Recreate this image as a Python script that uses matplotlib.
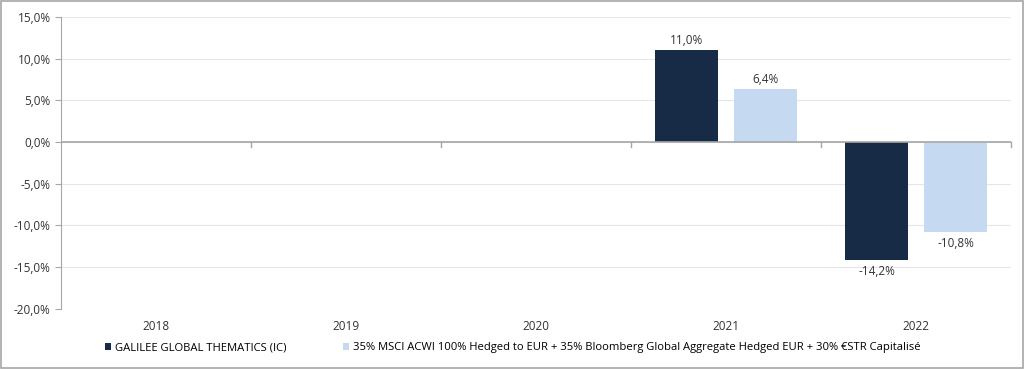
import numpy as np
import matplotlib.pyplot as plt
from matplotlib.ticker import FuncFormatter

years = ["2018", "2019", "2020", "2021", "2022"]
fund = [np.nan, np.nan, np.nan, 11.0, -14.2]
bench = [np.nan, np.nan, np.nan, 6.4, -10.8]
fund_name = "GALILEE GLOBAL THEMATICS (IC)"
bench_name = "35% MSCI ACWI 100% Hedged to EUR + 35% Bloomberg Global Aggregate Hedged EUR + 30% €STR Capitalisé"

dark = "#172b47"
light = "#c5daf1"
plt.rcParams['font.family'] = ['Open Sans', 'DejaVu Sans']

fig = plt.figure(figsize=(10.24, 3.69), dpi=100)
ax = fig.add_axes([0.0596, 0.163, 0.928, 0.791])

x = np.arange(len(years))
w = 0.33
off = 0.208
b1 = ax.bar(x - off, fund, w, color=dark, label=fund_name, zorder=3)
b2 = ax.bar(x + off, bench, w, color=light, label=bench_name, zorder=3)

def fmt(v):
    return "{:.1f}%".format(v).replace(".", ",")

for bars, vals in ((b1, fund), (b2, bench)):
    for r, v in zip(bars, vals):
        if np.isnan(v):
            continue
        if v >= 0:
            ax.text(r.get_x() + r.get_width() / 2, v + 0.35, fmt(v), ha="center", va="bottom",
                    fontsize=8.5, color="#333333")
        else:
            ax.text(r.get_x() + r.get_width() / 2, v - 0.6, fmt(v), ha="center", va="top",
                    fontsize=8.5, color="#333333")

ax.set_ylim(-20, 15)
ax.set_yticks(np.arange(-20, 15.1, 5))
ax.yaxis.set_major_formatter(FuncFormatter(lambda v, p: fmt(v)))
ax.set_xlim(-0.5, len(years) - 0.5)
ax.set_xticks(x)
ax.set_xticklabels(years)
ax.tick_params(axis="x", length=0, labelsize=8.5, colors="#333333", pad=8)
ax.tick_params(axis="y", length=4, color="#a6a6a6", labelsize=8.5, colors="#333333")
ax.grid(axis="y", color="#e6e6e6", linewidth=0.8, zorder=0)

for s in ["top", "right", "bottom"]:
    ax.spines[s].set_visible(False)
ax.spines["left"].set_color("#a6a6a6")
ax.axhline(0, color="#a6a6a6", linewidth=1.2, zorder=4)
# category boundary tick marks on the zero line
for b in np.arange(0.5, len(years) - 0.5, 1.0):
    ax.plot([b, b], [0, -0.55], color="#a6a6a6", linewidth=1, zorder=4, clip_on=False)
ax.plot([len(years) - 0.5] * 2, [0, -0.55], color="#a6a6a6", linewidth=1, zorder=4, clip_on=False)

fig.legend(handles=[b1, b2], loc="center", bbox_to_anchor=(0.5005, 0.057), ncol=2,
           frameon=False, fontsize=8.1, handlelength=0.6, handleheight=0.6,
           handletextpad=0.3, columnspacing=5.0)

fig.patches.append(plt.Rectangle((0.001, 0.002), 0.998, 0.996, transform=fig.transFigure,
                                 fill=False, edgecolor="#a6a6a6", linewidth=1.2))

plt.savefig("out.png", dpi=100)
